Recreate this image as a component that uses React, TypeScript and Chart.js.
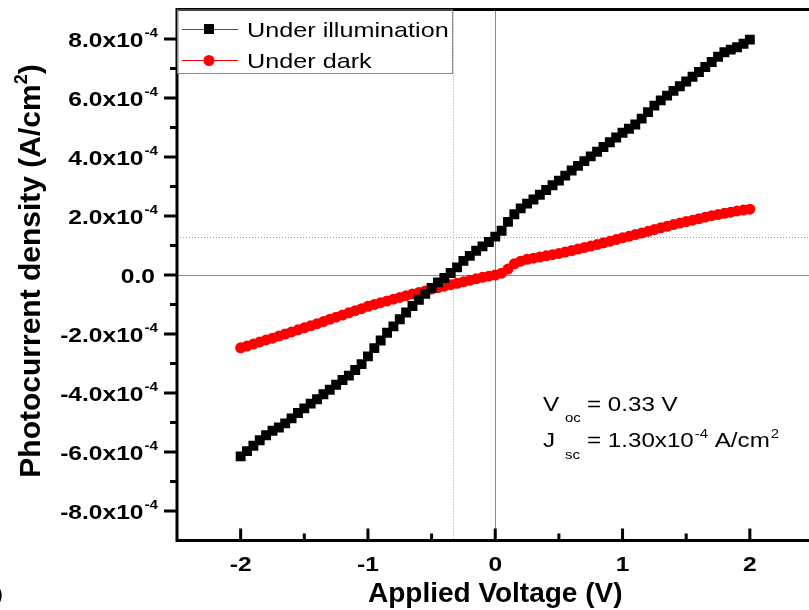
import React, { useEffect, useRef } from 'react';
import { Chart, registerables } from 'chart.js';

Chart.register(...registerables);

// Applied voltage (V)
const voltage = [
  -2, -1.95, -1.9, -1.85, -1.8, -1.75, -1.7, -1.65, -1.6, -1.55, -1.5, -1.45, -1.4, -1.35, -1.3, -1.25,
  -1.2, -1.15, -1.1, -1.05, -1, -0.95, -0.9, -0.85, -0.8, -0.75, -0.7, -0.65, -0.6, -0.55, -0.5, -0.45,
  -0.4, -0.35, -0.3, -0.25, -0.2, -0.15, -0.1, -0.05, 0, 0.05, 0.1, 0.15, 0.2, 0.25, 0.3, 0.35, 0.4,
  0.45, 0.5, 0.55, 0.6, 0.65, 0.7, 0.75, 0.8, 0.85, 0.9, 0.95, 1, 1.05, 1.1, 1.15, 1.2, 1.25, 1.3, 1.35,
  1.4, 1.45, 1.5, 1.55, 1.6, 1.65, 1.7, 1.75, 1.8, 1.85, 1.9, 1.95, 2,
];

// Photocurrent density, in units of 1e-4 A/cm^2
const illumination = [
  -6.15, -5.97, -5.79, -5.6, -5.43, -5.28, -5.17, -5.03, -4.86, -4.68, -4.52, -4.36, -4.21, -4.04, -3.89, -3.72,
  -3.56, -3.41, -3.22, -3.02, -2.76, -2.48, -2.22, -1.96, -1.74, -1.5, -1.27, -1.05, -0.84, -0.64, -0.44, -0.25,
  -0.1, 0.07, 0.26, 0.48, 0.65, 0.82, 0.97, 1.12, 1.3, 1.5, 1.8, 2.06, 2.26, 2.42, 2.56, 2.72, 2.88,
  3.04, 3.2, 3.37, 3.54, 3.7, 3.86, 4.02, 4.18, 4.34, 4.5, 4.66, 4.82, 4.96, 5.1, 5.3, 5.52, 5.74, 5.92, 6.08,
  6.24, 6.4, 6.56, 6.72, 6.88, 7.05, 7.22, 7.4, 7.55, 7.64, 7.72, 7.84, 7.98,
];

const dark = [
  -2.47, -2.41, -2.34, -2.27, -2.2, -2.14, -2.07, -2.0, -1.93, -1.86, -1.79, -1.72, -1.65, -1.58, -1.5, -1.43,
  -1.36, -1.28, -1.21, -1.14, -1.06, -1.0, -0.94, -0.88, -0.82, -0.76, -0.7, -0.64, -0.59, -0.54, -0.48, -0.43,
  -0.38, -0.33, -0.28, -0.23, -0.18, -0.13, -0.08, -0.04, 0, 0.06, 0.2, 0.38, 0.47, 0.53, 0.57, 0.61, 0.65,
  0.69, 0.73, 0.78, 0.83, 0.88, 0.93, 0.98, 1.03, 1.09, 1.14, 1.2, 1.26, 1.31, 1.37, 1.42, 1.48, 1.54, 1.6, 1.65,
  1.71, 1.76, 1.81, 1.86, 1.91, 1.96, 2.01, 2.05, 2.09, 2.13, 2.17, 2.2, 2.23,
];

const seriesNames = ['Under illumination', 'Under dark'];

const xTickValues = [-2, -1, 0, 1, 2];
const xTickLabels = ['-2', '-1', '0', '1', '2'];
const xMinorValues = [-1.5, -0.5, 0.5, 1.5];
const yTickValues = [8, 6, 4, 2, 0, -2, -4, -6, -8];
const yTickLabels = ['8.0x10', '6.0x10', '4.0x10', '2.0x10', '0.0', '-2.0x10', '-4.0x10', '-6.0x10', '-8.0x10'];
const yTickExponents = ['-4', '-4', '-4', '-4', '', '-4', '-4', '-4', '-4'];
const yMinorValues = [7, 5, 3, 1, -1, -3, -5, -7];

const vocLine = -0.33;
const jscLine = 1.3;

const FONT = '"Liberation Sans", Arial, Helvetica, sans-serif';

function drawText(
  ctx: CanvasRenderingContext2D,
  s: string,
  x: number,
  y: number,
  font: string,
  align: 'left' | 'right' | 'center',
  sx: number,
  color = '#000'
) {
  ctx.save();
  ctx.font = font;
  const w = ctx.measureText(s).width * sx;
  const x0 = align === 'right' ? x - w : align === 'center' ? x - w / 2 : x;
  ctx.translate(x0, y);
  ctx.scale(sx, 1);
  ctx.textAlign = 'left';
  ctx.textBaseline = 'alphabetic';
  ctx.fillStyle = color;
  ctx.fillText(s, 0, 0);
  ctx.restore();
  return w;
}

function measure(ctx: CanvasRenderingContext2D, s: string, font: string, sx: number) {
  ctx.save();
  ctx.font = font;
  const w = ctx.measureText(s).width * sx;
  ctx.restore();
  return w;
}

const decorPlugin = {
  id: 'decor',
  beforeDatasetsDraw(chart: any) {
    const ctx: CanvasRenderingContext2D = chart.ctx;
    const { left, right, top, bottom } = chart.chartArea;
    const xs = chart.scales.x;
    const ys = chart.scales.y;
    ctx.save();
    ctx.strokeStyle = '#8a8a8a';
    ctx.lineWidth = 1;
    const x0 = Math.round(xs.getPixelForValue(0)) + 0.5;
    const y0 = Math.round(ys.getPixelForValue(0)) + 0.5;
    ctx.beginPath();
    ctx.moveTo(x0, top);
    ctx.lineTo(x0, bottom);
    ctx.moveTo(left, y0);
    ctx.lineTo(right, y0);
    ctx.stroke();
    ctx.strokeStyle = '#9a9a9a';
    ctx.setLineDash([1, 2]);
    const xv = Math.round(xs.getPixelForValue(vocLine)) + 0.5;
    const yj = Math.round(ys.getPixelForValue(jscLine)) + 0.5;
    ctx.beginPath();
    ctx.moveTo(xv, top);
    ctx.lineTo(xv, bottom);
    ctx.moveTo(left, yj);
    ctx.lineTo(right, yj);
    ctx.stroke();
    ctx.restore();
  },
  afterDatasetsDraw(chart: any) {
    const ctx: CanvasRenderingContext2D = chart.ctx;
    const { left, right, top, bottom } = chart.chartArea;
    const xs = chart.scales.x;
    const ys = chart.scales.y;
    ctx.save();
    ctx.strokeStyle = '#000';
    ctx.lineWidth = 3;
    ctx.beginPath();
    ctx.rect(left, top, right - left, bottom - top);
    ctx.stroke();
    ctx.beginPath();
    yTickValues.forEach((v) => {
      const p = ys.getPixelForValue(v);
      ctx.moveTo(left - 13, p);
      ctx.lineTo(left, p);
    });
    yMinorValues.forEach((v) => {
      const p = ys.getPixelForValue(v);
      ctx.moveTo(left - 7, p);
      ctx.lineTo(left, p);
    });
    xTickValues.forEach((v) => {
      const p = xs.getPixelForValue(v);
      ctx.moveTo(p, bottom);
      ctx.lineTo(p, bottom - 12);
    });
    xMinorValues.forEach((v) => {
      const p = xs.getPixelForValue(v);
      ctx.moveTo(p, bottom);
      ctx.lineTo(p, bottom - 7);
    });
    ctx.stroke();

    const tickFont = `bold 21px ${FONT}`;
    const supFont = `bold 13px ${FONT}`;
    const sx = 1.17;
    yTickValues.forEach((v, i) => {
      const p = ys.getPixelForValue(v);
      const base = yTickLabels[i];
      const ex = yTickExponents[i];
      const wb = measure(ctx, base, tickFont, sx);
      const we = ex ? measure(ctx, ex, supFont, sx) + 1 : 0;
      const rightEdge = ex ? left - 19 : left - 22;
      const xb = rightEdge - wb - we;
      drawText(ctx, base, xb, p + 7.5, tickFont, 'left', sx);
      if (ex) drawText(ctx, ex, xb + wb + 1, p - 2, supFont, 'left', sx);
    });
    xTickValues.forEach((v, i) => {
      const p = xs.getPixelForValue(v);
      drawText(ctx, xTickLabels[i], p, bottom + 30, tickFont, 'center', sx);
    });
    drawText(ctx, 'Applied Voltage (V)', xs.getPixelForValue(0), 602, `bold 28px ${FONT}`, 'center', 1);
    ctx.save();
    ctx.translate(40, 271);
    ctx.rotate(-Math.PI / 2);
    const tf = `bold 30px ${FONT}`;
    const sf = `bold 18px ${FONT}`;
    const t1 = 'Photocurrent density (A/cm';
    const w1 = measure(ctx, t1, tf, 1);
    const w2 = measure(ctx, '2', sf, 1);
    const w3 = measure(ctx, ')', tf, 1);
    const total = w1 + w2 + w3;
    let cx = -total / 2;
    drawText(ctx, t1, cx, 0, tf, 'left', 1);
    cx += w1;
    drawText(ctx, '2', cx, -13, sf, 'left', 1);
    cx += w2;
    drawText(ctx, ')', cx, 0, tf, 'left', 1);
    ctx.restore();

    // legend
    const lx = left;
    const ly = top;
    ctx.fillStyle = '#fff';
    ctx.fillRect(lx + 1.5, ly + 1.5, 452 - lx - 1.5, 73 - ly - 1.5);
    ctx.strokeStyle = '#8a8a8a';
    ctx.lineWidth = 1;
    ctx.strokeRect(lx + 0.5, ly + 0.5, 452 - lx, 73 - ly);
    const ds = chart.data.datasets;
    const rows = [29, 60];
    const legFont = `21px ${FONT}`;
    rows.forEach((ry, i) => {
      const d = ds[i];
      ctx.strokeStyle = i === 0 ? '#555' : d.borderColor;
      ctx.lineWidth = 1;
      ctx.beginPath();
      ctx.moveTo(182, ry + 0.5);
      ctx.lineTo(238, ry + 0.5);
      ctx.stroke();
      ctx.fillStyle = d.backgroundColor;
      if (d.pointStyle === 'rect') {
        ctx.fillRect(209 - 5, ry - 5, 10, 10);
      } else {
        ctx.beginPath();
        ctx.arc(209, ry + 0.5, 5.5, 0, Math.PI * 2);
        ctx.fill();
      }
      drawText(ctx, d.label, 247, ry + 8, legFont, 'left', 1.2);
    });

    // annotation
    const aFont = `21px ${FONT}`;
    const aSub = `13px ${FONT}`;
    const asx = 1.15;
    drawText(ctx, 'V', 543, 411, aFont, 'left', asx);
    drawText(ctx, 'oc', 565, 422, aSub, 'left', asx);
    drawText(ctx, '= 0.33 V', 587, 411, aFont, 'left', asx);
    drawText(ctx, 'J', 543, 447, aFont, 'left', asx);
    drawText(ctx, 'sc', 565, 459, aSub, 'left', asx);
    let ax = 587;
    ax += drawText(ctx, '= 1.30x10', ax, 447, aFont, 'left', asx);
    ax += 1;
    ax += drawText(ctx, '-4', ax, 438, aSub, 'left', asx);
    ax += drawText(ctx, ' A/cm', ax, 447, aFont, 'left', asx);
    drawText(ctx, '2', ax + 1, 438, aSub, 'left', asx);

    drawText(ctx, ')', -4, 601, `21px ${FONT}`, 'left', 1);
    ctx.restore();
  },
};

export default function App() {
  const canvasRef = useRef<HTMLCanvasElement | null>(null);

  useEffect(() => {
    const canvas = canvasRef.current;
    if (!canvas) return;
    const chart = new Chart(canvas, {
      type: 'line',
      data: {
        datasets: [
          {
            label: seriesNames[0],
            data: voltage.map((v, i) => ({ x: v, y: illumination[i] })),
            borderColor: '#000',
            backgroundColor: '#000',
            borderWidth: 1,
            pointStyle: 'rect',
            pointRadius: 7,
            pointBorderWidth: 0,
            pointBackgroundColor: '#000',
          } as any,
          {
            label: seriesNames[1],
            data: voltage.map((v, i) => ({ x: v, y: dark[i] })),
            borderColor: '#ff0000',
            backgroundColor: '#ff0000',
            borderWidth: 1,
            pointStyle: 'circle',
            pointRadius: 5.5,
            pointBorderWidth: 0,
            pointBackgroundColor: '#ff0000',
          } as any,
        ],
      },
      options: {
        animation: false,
        responsive: false,
        devicePixelRatio: 1,
        layout: { padding: { left: 177, top: 9.5, right: 830 - 813.5, bottom: 610 - 540.5 } },
        plugins: { legend: { display: false }, tooltip: { enabled: false } },
        scales: {
          x: { type: 'linear', min: -2.5, max: 2.5, display: false },
          y: { type: 'linear', min: -9, max: 9, display: false },
        },
      },
      plugins: [decorPlugin],
    });
    return () => chart.destroy();
  }, []);

  return (
    <div
      style={{
        position: 'fixed',
        left: 0,
        top: 0,
        width: 809,
        height: 610,
        overflow: 'hidden',
        background: '#fff',
      }}
    >
      <canvas ref={canvasRef} width={830} height={610} style={{ display: 'block', width: 830, height: 610 }} />
    </div>
  );
}
